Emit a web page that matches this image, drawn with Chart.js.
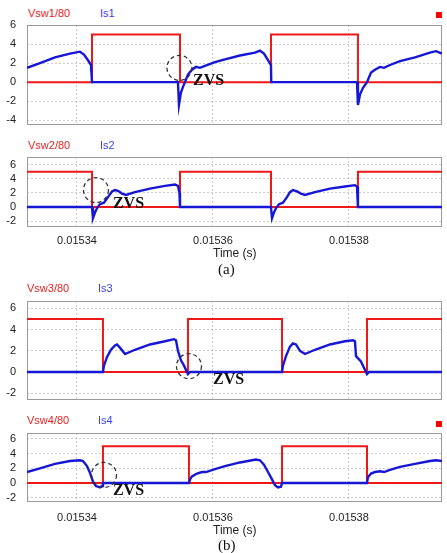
<!DOCTYPE html>
<html>
<head>
<meta charset="utf-8">
<script src="https://cdn.jsdelivr.net/npm/chart.js@4.4.0/dist/chart.umd.min.js"></script>
<style>
    body { margin: 0; background: #fff; width: 447px; height: 553px; position: relative; overflow: hidden; font-family: "Liberation Sans", Arial, sans-serif; }
    canvas { position: absolute; left: 0; }
    .lbl { position: absolute; font-size: 11px; line-height: 12px; white-space: nowrap; }
    .rojo { color: #e82222; }
    .azul { color: #3a3ff0; }
    .marca { position: absolute; width: 6px; height: 6px; background: #f00; }
    .tiempo { position: absolute; font-size: 12px; line-height: 14px; color: #222; white-space: nowrap; }
    .sub { position: absolute; font-family: "Liberation Serif", serif; font-size: 15px; line-height: 16px; color: #111; }
</style>
</head>
<body>
<div class="lbl rojo" style="left:28px;top:7px;">Vsw1/80</div>
<div class="lbl azul" style="left:100px;top:7px;">Is1</div>
<div class="marca" style="left:436px;top:12px;"></div>
<canvas id="chart1" width="447" height="136" style="top:7px;"></canvas>

<div class="lbl rojo" style="left:28px;top:139px;">Vsw2/80</div>
<div class="lbl azul" style="left:100px;top:139px;">Is2</div>
<canvas id="chart2" width="447" height="110" style="top:139px;"></canvas>
<div class="tiempo" style="left:213px;top:246px;">Time (s)</div>
<div class="sub" style="left:218px;top:261px;">(a)</div>

<div class="lbl rojo" style="left:27px;top:282px;">Vsw3/80</div>
<div class="lbl azul" style="left:98px;top:282px;">Is3</div>
<canvas id="chart3" width="447" height="135" style="top:283px;"></canvas>

<div class="lbl rojo" style="left:27px;top:414px;">Vsw4/80</div>
<div class="lbl azul" style="left:98px;top:414px;">Is4</div>
<div class="marca" style="left:436px;top:421px;"></div>
<canvas id="chart4" width="447" height="109" style="top:415px;"></canvas>
<div class="tiempo" style="left:213px;top:523px;">Time (s)</div>
<div class="sub" style="left:218px;top:537px;">(b)</div>

<script>
//--------------------------------------DATOS (tiempo en microsegundos)
var tickValuesX = [15340, 15360, 15380];
var tickLabelsX = ["0.01534", "0.01536", "0.01538"];
var timeMin = 15332.65;
var timeMax = 15393.68;

var yTicks1 = [-4, -2, 0, 2, 4, 6];
var yTicks = [-2, 0, 2, 4, 6];

// (a) arriba
var vsw1T = [15332.65, 15342.21, 15355.15, 15368.53, 15381.32, 15393.68];
var vsw1V = [0, 5, 0, 5, 0, 0];
var is1T = [15332.65, 15334.56, 15336.76, 15338.97, 15340.44, 15341.03, 15341.62, 15342.06, 15342.21,
    15354.85, 15355.00, 15355.29, 15355.59, 15355.88, 15356.32, 15356.91, 15357.50, 15358.09, 15358.82,
    15360.29, 15361.76, 15363.97, 15366.18, 15366.91, 15367.50, 15368.09, 15368.53, 15368.57,
    15381.18, 15381.32, 15381.62, 15382.06, 15382.65, 15383.24, 15383.82, 15384.56, 15385.15, 15386.03,
    15387.50, 15389.71, 15391.91, 15392.79, 15393.68];
var is1V = [1.5, 2.0, 2.6, 3.0, 3.2, 2.9, 2.3, 1.8, 0,
    0, -2.4, -1.1, -0.5, 0, 0.8, 1.3, 1.6, 1.5, 1.7,
    2.1, 2.4, 2.8, 3.1, 3.3, 3.0, 2.3, 1.8, 0,
    0, -2.4, -1.3, -0.6, 0, 1.0, 1.3, 1.6, 1.5, 1.8,
    2.2, 2.6, 3.1, 3.25, 3.0];

// (a) abajo
var vsw2T = [15332.65, 15342.21, 15355.15, 15368.53, 15381.32, 15393.68];
var vsw2V = [5, 0, 5, 0, 5, 5];
var is2T = [15332.65, 15342.21, 15342.35, 15342.65, 15342.94, 15343.38, 15343.97, 15344.56, 15345.15,
    15345.59, 15346.03, 15346.62, 15347.21, 15348.53, 15350.74, 15352.94, 15354.41, 15354.85, 15355.07, 15355.15,
    15368.53, 15368.68, 15368.97, 15369.26, 15369.71, 15370.29, 15370.88, 15371.32, 15371.76, 15372.35,
    15372.94, 15373.53, 15375.00, 15377.21, 15379.41, 15380.88, 15381.18, 15381.32, 15393.68];
var is2V = [0, 0, -1.6, -0.8, -0.2, 0.4, 0.6, 1.4, 2.2,
    2.4, 2.3, 1.9, 1.7, 2.1, 2.6, 3.0, 3.2, 3.0, 2.0, 0,
    0, -1.6, -0.8, -0.2, 0.4, 0.6, 1.4, 2.1, 2.4, 2.2,
    1.9, 1.7, 2.1, 2.6, 2.9, 3.1, 2.9, 0, 0];

// (b) arriba
var vsw3T = [15332.65, 15343.82, 15356.32, 15370.15, 15382.65, 15393.68];
var vsw3V = [5, 0, 5, 0, 5, 5];
var is3T = [15332.65, 15343.82, 15343.97, 15344.41, 15345.00, 15345.59, 15345.88, 15346.32, 15347.06,
    15348.53, 15350.74, 15352.94, 15354.26, 15354.56, 15354.85, 15355.29, 15355.74, 15356.32, 15356.62,
    15370.15, 15370.29, 15370.74, 15371.32, 15371.76, 15372.21, 15372.79, 15373.53, 15375.00, 15377.21,
    15379.41, 15380.59, 15380.88, 15381.03, 15381.76, 15382.65, 15382.94, 15393.68];
var is3V = [0, 0, 0.6, 1.4, 2.1, 2.5, 2.6, 2.3, 1.7,
    2.1, 2.6, 2.9, 3.1, 3.0, 2.0, 1.1, 0.6, -0.2, 0,
    0, 0.6, 1.5, 2.4, 2.7, 2.6, 2.0, 1.7, 2.1, 2.6,
    2.9, 3.0, 2.9, 1.5, 1.0, -0.2, 0, 0];

// (b) abajo
var vsw4T = [15332.65, 15343.82, 15356.47, 15370.15, 15382.65, 15393.68];
var vsw4V = [0, 5, 0, 5, 0, 0];
var is4T = [15332.65, 15334.56, 15336.76, 15338.97, 15340.44, 15340.88, 15341.47, 15341.91, 15342.35,
    15342.79, 15343.38, 15343.68, 15343.82,
    15356.47, 15356.62, 15356.91, 15357.65, 15358.38, 15358.97, 15360.29, 15361.76, 15363.97, 15366.32,
    15366.91, 15367.50, 15368.09, 15368.68, 15369.12, 15369.56, 15370.00, 15370.15,
    15382.65, 15382.79, 15383.24, 15383.82, 15384.56, 15385.15, 15386.03, 15387.50, 15389.71, 15391.91,
    15392.79, 15393.68];
var is4V = [1.5, 2.0, 2.6, 3.0, 3.1, 3.0, 2.3, 1.4, 0.2,
    -0.4, -0.6, -0.4, 0,
    0, 0.5, 0.9, 1.3, 1.5, 1.5, 1.9, 2.3, 2.8, 3.2,
    3.1, 2.5, 1.5, 0.5, -0.3, -0.6, -0.5, 0,
    0, 0.8, 1.3, 1.5, 1.6, 1.5, 1.8, 2.2, 2.6, 3.0,
    3.1, 3.0];

// circulos ZVS: centro (t, v) y texto (tx, tv)
var zvs1 = {t: 15355.07, v: 1.5, tx: 15357.06, tv: 0.1};
var zvs2 = {t: 15342.79, v: 2.4, tx: 15345.29, tv: 0.5};
var zvs3 = {t: 15356.47, v: 0.55, tx: 15360.0, tv: -0.75};
var zvs4 = {t: 15343.97, v: 1.1, tx: 15345.29, tv: -1.1};

//--------------------------------------GRAFICAS
var rojo = "rgb(238, 24, 24)";
var azul = "rgb(22, 22, 215)";
var fuenteEje = {family: "Liberation Sans", size: 11};

function puntos(t, v) {
    var arr = [];
    for (var i = 0; i < t.length; i++) {
        arr.push({x: t[i], y: v[i]});
    }
    return arr;
}

var marcoPlugin = {
    id: 'marco',
    beforeDatasetsDraw: function (chart) {
        var a = chart.chartArea;
        var ctx = chart.ctx;
        ctx.save();
        ctx.strokeStyle = '#9a9a9a';
        ctx.lineWidth = 1;
        ctx.strokeRect(a.left + 0.5, a.top + 0.5, a.width - 1, a.height - 1);
        ctx.restore();
    }
};

var zvsPlugin = {
    id: 'zvs',
    afterDatasetsDraw: function (chart, args, opts) {
        var ctx = chart.ctx;
        var xs = chart.scales.x;
        var ys = chart.scales.y;
        ctx.save();
        ctx.setLineDash([4, 3]);
        ctx.strokeStyle = '#333';
        ctx.lineWidth = 1.3;
        ctx.beginPath();
        ctx.arc(xs.getPixelForValue(opts.t), ys.getPixelForValue(opts.v), 12.5, 0, 2 * Math.PI);
        ctx.stroke();
        ctx.setLineDash([]);
        ctx.fillStyle = '#111';
        ctx.font = 'bold 16px "Liberation Serif"';
        ctx.textAlign = 'left';
        ctx.textBaseline = 'middle';
        ctx.fillText('ZVS', xs.getPixelForValue(opts.tx), ys.getPixelForValue(opts.tv));
        ctx.restore();
    }
};

function grafica(id, vswT, vswV, isT, isV, yMin, yMax, yTicksArr, mostrarX, padX, zvs) {
    new Chart(document.getElementById(id), {
        type: 'line',
        data: {
            datasets: [{
                label: 'Is',
                data: puntos(isT, isV),
                borderColor: azul,
                borderWidth: 2.4,
                pointRadius: 0,
                tension: 0
            }, {
                label: 'Vsw/80',
                data: puntos(vswT, vswV),
                borderColor: rojo,
                borderWidth: 2,
                pointRadius: 0,
                stepped: true
            }]
        },
        options: {
            responsive: false,
            animation: false,
            events: [],
            layout: {padding: {top: 18, right: 5, bottom: mostrarX ? 0 : 18, left: 0}},
            plugins: {
                legend: {display: false},
                tooltip: {enabled: false},
                zvs: zvs
            },
            scales: {
                x: {
                    type: 'linear',
                    min: timeMin,
                    max: timeMax,
                    afterBuildTicks: function (s) {
                        s.ticks = tickValuesX.map(function (v) { return {value: v}; });
                    },
                    afterFit: function (s) {
                        s.height = mostrarX ? 22 : 0;
                    },
                    ticks: {
                        display: mostrarX,
                        padding: padX,
                        color: '#222',
                        font: fuenteEje,
                        maxRotation: 0,
                        autoSkip: false,
                        callback: function (v) {
                            return tickLabelsX[tickValuesX.indexOf(v)];
                        }
                    },
                    grid: {color: 'rgba(0,0,0,0.2)', drawTicks: false},
                    border: {display: false, dash: [2, 2]}
                },
                y: {
                    min: yMin,
                    max: yMax,
                    afterBuildTicks: function (s) {
                        s.ticks = yTicksArr.map(function (v) { return {value: v}; });
                    },
                    afterFit: function (s) {
                        s.width = 27;
                    },
                    ticks: {padding: 11, color: '#222', font: fuenteEje, autoSkip: false},
                    grid: {color: 'rgba(0,0,0,0.2)', drawTicks: false},
                    border: {display: false, dash: [2, 2]}
                }
            }
        },
        plugins: [marcoPlugin, zvsPlugin]
    });
}

grafica("chart1", vsw1T, vsw1V, is1T, is1V, -4.5, 6, yTicks1, false, 0, zvs1);
grafica("chart2", vsw2T, vsw2V, is2T, is2V, -2.85, 7.1, yTicks, true, 7, zvs2);
grafica("chart3", vsw3T, vsw3V, is3T, is3V, -2.64, 6.7, yTicks, false, 0, zvs3);
grafica("chart4", vsw4T, vsw4V, is4T, is4V, -2.57, 6.8, yTicks, true, 9, zvs4);
</script>
</body>
</html>
